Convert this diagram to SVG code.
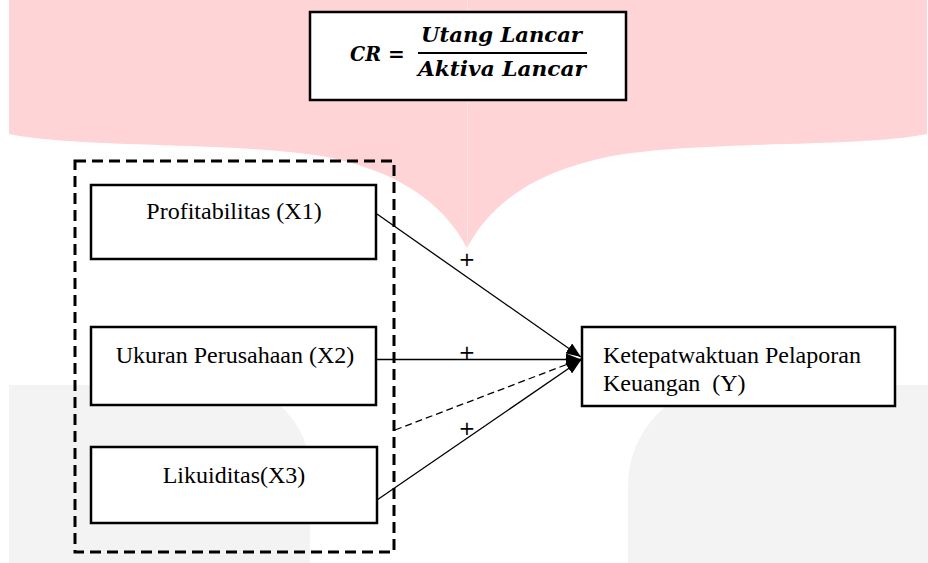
<svg xmlns="http://www.w3.org/2000/svg" width="928" height="563" viewBox="0 0 928 563">
<style>
.node rect { fill: #ffffff; stroke: #000000; stroke-width: 2.5; }
.lbl { font-family: "Liberation Serif", "Times New Roman", serif; font-size: 24px; fill: #000000; }
.math { font-family: "DejaVu Serif", "Liberation Serif", serif; font-weight: bold; font-style: italic; font-size: 20px; fill: #000000; }
.plus { font-family: "DejaVu Sans", "Liberation Sans", sans-serif; font-size: 20px; fill: #000000; text-anchor: middle; }
.conn { stroke: #000000; stroke-width: 1.3; fill: none; marker-end: url(#arr); }
</style>
<defs>
<marker id="arr" markerUnits="userSpaceOnUse" markerWidth="16" markerHeight="12" refX="15" refY="6" orient="auto">
<path d="M0,0 L15,6 L0,12 Z" fill="#000000"/>
</marker>
</defs>
<rect width="928" height="563" fill="#ffffff"/>
<g id="watermark">
<path d="M9,0 H927 V134 C860,148 700,140 612,156 C540,170 492,200 467,248 C442,200 394,170 322,156 C235,142 75,148 9,134 Z" fill="#ffd4d6"/>
<line x1="467.5" y1="0" x2="467.5" y2="246" stroke="#ffe3e4" stroke-width="1"/>
<path d="M9,385 H224 A86,86 0 0 1 310,471 V563 H9 Z" fill="#f3f3f3"/>
<path d="M928,385 H728 A100,100 0 0 0 628,485 V563 H928 Z" fill="#f3f3f3"/>
</g>
<g id="formula" class="node">
<rect x="310" y="12" width="316" height="88"/>
<text class="math" x="350" y="61" textLength="31" lengthAdjust="spacingAndGlyphs">CR</text>
<text class="math" x="388" y="61" font-style="normal">=</text>
<text class="math" x="421" y="42" textLength="161" lengthAdjust="spacingAndGlyphs">Utang Lancar</text>
<rect x="418" y="52" width="169" height="2" style="fill:#000;stroke:none"/>
<text class="math" x="418" y="76" textLength="168" lengthAdjust="spacingAndGlyphs">Aktiva Lancar</text>
</g>
<g id="group-x">
<rect x="75" y="161" width="319" height="391" fill="none" stroke="#000000" stroke-width="3" stroke-dasharray="11 6"/>
</g>
<g id="x1" class="node">
<rect x="91" y="185" width="285" height="74"/>
<text class="lbl" x="234" y="219" text-anchor="middle">Profitabilitas (X1)</text>
</g>
<g id="x2" class="node">
<rect x="91" y="327" width="285" height="78"/>
<text class="lbl" x="235" y="363" text-anchor="middle">Ukuran Perusahaan (X2)</text>
</g>
<g id="x3" class="node">
<rect x="91" y="447" width="286" height="76"/>
<text class="lbl" x="234" y="483" text-anchor="middle">Likuiditas(X3)</text>
</g>
<g id="y" class="node">
<rect x="582" y="327" width="313" height="79"/>
<text class="lbl" x="603" y="363">Ketepatwaktuan Pelaporan</text>
<text class="lbl" x="603" y="391" xml:space="preserve">Keuangan  (Y)</text>
</g>
<g id="connectors">
<line class="conn" x1="377" y1="214" x2="581" y2="357"/>
<line class="conn" x1="377" y1="359.5" x2="581" y2="359.5"/>
<line class="conn" x1="395" y1="430" x2="581" y2="359" stroke-dasharray="7 4"/>
<line class="conn" x1="377" y1="500" x2="581" y2="360"/>
<text class="plus" x="467" y="266">+</text>
<text class="plus" x="467" y="359">+</text>
<text class="plus" x="467" y="435">+</text>
</g>
</svg>
